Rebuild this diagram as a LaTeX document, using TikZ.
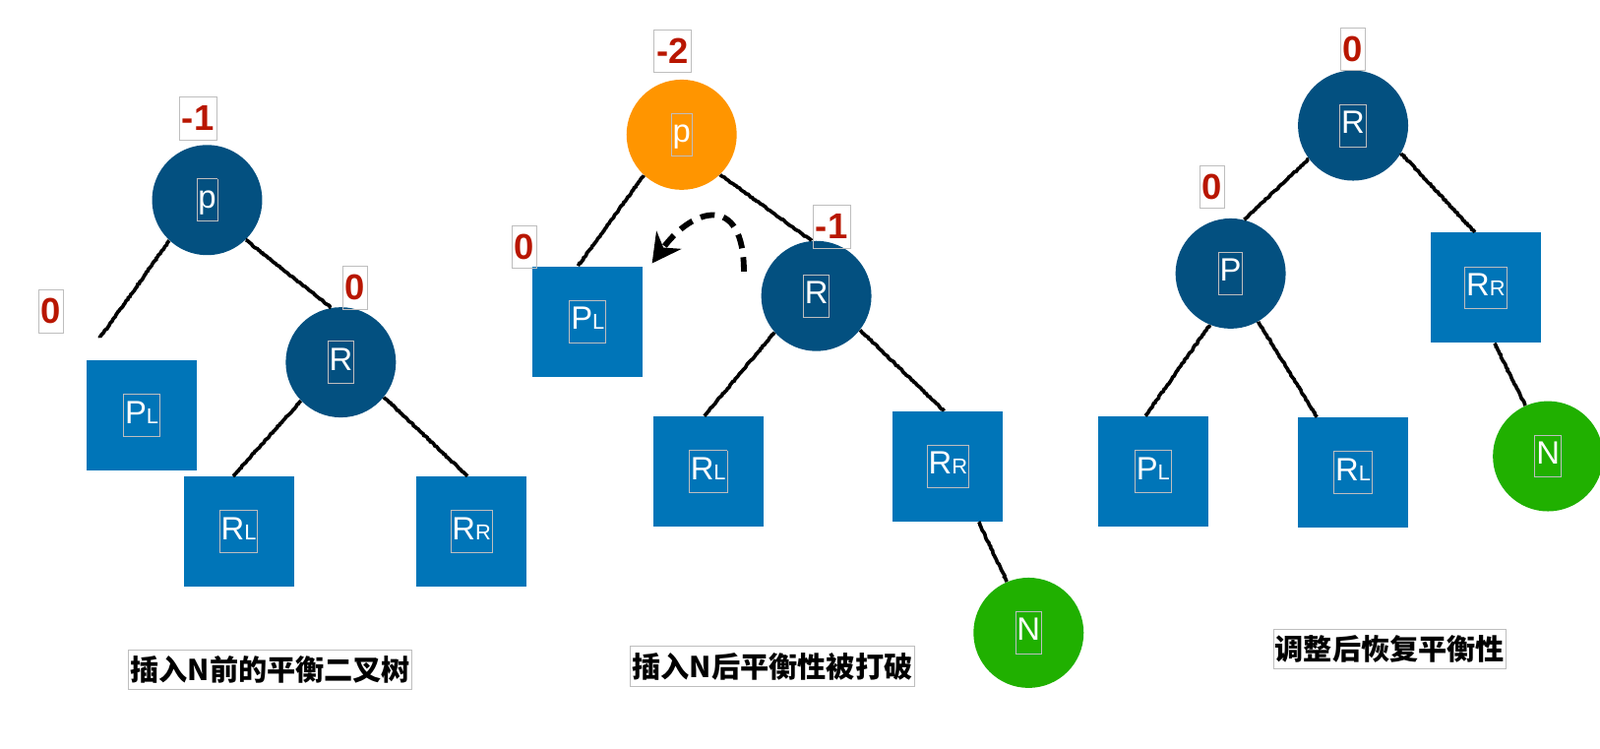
\documentclass[tikz,border=0pt]{standalone}
\usepackage{fontspec}
\setmainfont{Liberation Sans}
\newfontfamily\cjk{Noto Sans CJK SC}
\usetikzlibrary{arrows.meta}
\usetikzlibrary{decorations.pathmorphing}
\definecolor{avlblue}{RGB}{3,80,128}
\definecolor{subblue}{RGB}{0,117,184}
\definecolor{badorange}{RGB}{255,149,0}
\definecolor{newgreen}{RGB}{32,176,0}
\definecolor{balred}{RGB}{184,22,0}
\definecolor{framegray}{RGB}{190,190,190}
\newcommand{\ntxt}[1]{{\setlength{\fboxsep}{0.5pt}\setlength{\fboxrule}{0.5pt}\color{framegray}\fbox{\color{white}\strut#1}}}
\newcommand{\sbs}[1]{{\fontsize{12}{14}\selectfont#1}}

\begin{document}
\begin{tikzpicture}[x=0.02cm, y=-0.02cm,
    avl/.style={circle, fill=avlblue, minimum size=2.16cm, inner sep=0pt, font=\fontsize{18}{22}\selectfont},
    subtree/.style={rectangle, fill=subblue, minimum size=2.16cm, inner sep=0pt, font=\fontsize{18}{22}\selectfont},
    bal/.style={draw=framegray, line width=0.5pt, text=balred, inner xsep=1.5pt, inner ysep=0pt, minimum height=0.84cm, font=\bfseries\fontsize{20}{24}\selectfont},
    link/.style={line width=2pt, decorate, decoration={random steps, segment length=1pt, amplitude=0.3pt}},
    rotarrow/.style={line width=3.2pt, dash pattern=on 8pt off 5pt, -{Stealth[length=16pt, width=17pt]}},
    capbox/.style={draw=framegray, line width=0.5pt, inner xsep=1pt, inner ysep=0pt, minimum height=0.78cm, font=\cjk\bfseries\fontsize{16}{18}\selectfont}]
    \useasboundingbox (0,0) rectangle (1568,733);

    % before insertion
    \node[avl] (pA) at (203,196) {\ntxt{p}};
    \node[subtree] (PLa) at (139,407) {\ntxt{P\sbs{L}}};
    \node[avl] (RA) at (334,355) {\ntxt{R}};
    \node[subtree] (RLa) at (234,521) {\ntxt{R\sbs{L}}};
    \node[subtree] (RRa) at (462,521) {\ntxt{R\sbs{R}}};
    \coordinate (pAend) at (98,331);
    \node[bal] (bpA) at (194,116) {-1};
    \node[bal] (bPLa) at (50,305) {0};
    \node[bal] (bRA) at (348,282) {0};
    \draw[link] (pA.-133) -- (pAend);
    \draw[link] (pA.-46) -- (RA.100);
    \draw[link] (RA.-136) -- (RLa.96);
    \draw[link] (RA.-39) -- (RRa.94);
    \node[capbox] (capA) at (265,656) {插入N前的平衡二叉树};

    % after insertion
    \node[avl, fill=badorange] (pB) at (668,132) {\ntxt{p}};
    \node[subtree] (PLb) at (576,315) {\ntxt{P\sbs{L}}};
    \node[avl] (RB) at (800,290) {\ntxt{R}};
    \node[subtree] (RLb) at (694,462) {\ntxt{R\sbs{L}}};
    \node[subtree] (RRb) at (929,457) {\ntxt{R\sbs{R}}};
    \node[avl, fill=newgreen] (NB) at (1008,620) {\ntxt{N}};
    \node[bal] (bpB) at (659,50) {-2};
    \node[bal] (bPLb) at (514,242) {0};
    \node[bal] (bRB) at (815,222) {-1};
    \draw[link] (pB.-133) -- (PLb.100);
    \draw[link] (pB.-46) -- (RB.95);
    \draw[link] (RB.-139) -- (RLb.94);
    \draw[link] (RB.-38) -- (RRb.94);
    \draw[link] (RRb.-61) -- (NB.113);
    \coordinate (rotS) at (729,266);
    \coordinate (rotE) at (639,258);
    \draw[rotarrow] (rotS) .. controls (729,188) and (678,204) .. (rotE);
    \node[capbox] (capB) at (757,653) {插入N后平衡性被打破};

    % after rotation
    \node[avl] (RC) at (1326,123) {\ntxt{R}};
    \node[avl] (PC) at (1206,268) {\ntxt{P}};
    \node[subtree] (PLc) at (1130,462) {\ntxt{P\sbs{L}}};
    \node[subtree] (RLc) at (1326,463) {\ntxt{R\sbs{L}}};
    \node[subtree] (RRc) at (1456,282) {\ntxt{R\sbs{R}}};
    \node[avl, fill=newgreen] (NC) at (1517,447) {\ntxt{N}};
    \node[bal] (bRC) at (1326,48) {0};
    \node[bal] (bPC) at (1188,183) {0};
    \draw[link] (RC.-143) -- (PC.76);
    \draw[link] (RC.-30) -- (RRc.101);
    \draw[link] (PC.-112) -- (PLc.98);
    \draw[link] (PC.-60) -- (RLc.123);
    \draw[link] (RRc.-81) -- (NC.114);
    \node[capbox] (capC) at (1362,636) {调整后恢复平衡性};

\end{tikzpicture}
\end{document}
